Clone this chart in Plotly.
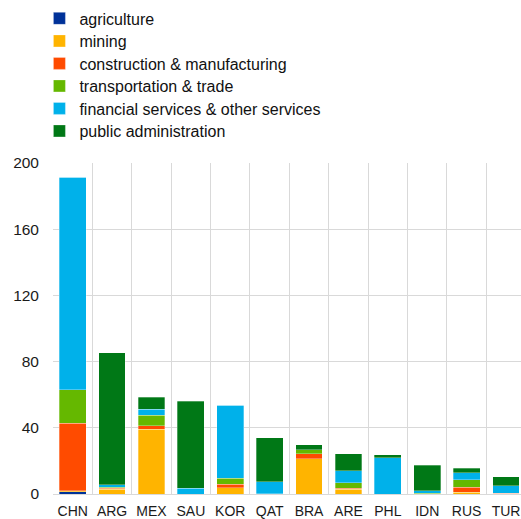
import plotly.graph_objects as go

countries = ["CHN", "ARG", "MEX", "SAU", "KOR", "QAT", "BRA", "ARE", "PHL", "IDN", "RUS", "TUR"]
agriculture = [1.5, 0.0, 0.0, 0.0, 0.0, 0.0, 0.0, 0.0, 0.0, 0.0, 0.0, 0.0]
mining = [0.5, 3.0, 39.2, 0.0, 3.8, 0.0, 21.4, 3.0, 0.0, 0.0, 1.2, 0.0]
construction = [40.8, 0.5, 2.0, 0.0, 2.2, 0.0, 3.0, 0.5, 0.0, 0.0, 2.8, 0.5]
transportation = [20.2, 0.5, 6.4, 0.0, 3.5, 0.3, 2.4, 3.2, 0.0, 0.5, 4.6, 0.0]
financial = [128.5, 1.5, 3.5, 3.6, 44.0, 7.0, 0.0, 7.4, 22.0, 1.5, 4.1, 4.5]
public_admin = [0.0, 80.0, 7.4, 52.3, 0.0, 26.6, 3.1, 10.3, 1.8, 15.3, 3.0, 5.5]
y_ticks = [0, 40, 80, 120, 160, 200]

series = [
    ("agriculture", agriculture, "#003299"),
    ("mining", mining, "#FFB400"),
    ("construction & manufacturing", construction, "#FF4B00"),
    ("transportation & trade", transportation, "#65B800"),
    ("financial services & other services", financial, "#00B1EA"),
    ("public administration", public_admin, "#007816"),
]

fig = go.Figure()
legend_layout = {}
for i, (name, vals, col) in enumerate(series):
    key = f"legend{i + 2}"
    fig.add_trace(go.Bar(
        x=countries, y=vals, name=name, legend=key,
        marker=dict(color=col, line=dict(color="rgba(255,255,255,0.5)", width=0.6)),
    ))
    legend_layout[key] = dict(
        x=-0.029, xanchor="left", y=1.488 - i * 0.068, yanchor="top",
        font=dict(size=16, color="#111111"), bgcolor="rgba(0,0,0,0)",
    )

fig.update_layout(
    width=521, height=519,
    barmode="stack", bargap=0.32,
    paper_bgcolor="white", plot_bgcolor="white",
    margin=dict(l=53, r=0, t=163, b=25, autoexpand=False),
    font=dict(family="Liberation Sans, Arial, sans-serif", size=15, color="#1a1a1a"),
    xaxis=dict(
        type="category", range=[-0.5, 11.38], tickson="boundaries",
        showgrid=True, gridcolor="#d9d9d9", gridwidth=1,
        ticks="", showline=False, zeroline=False, automargin=False,
        tickangle=0, tickfont=dict(size=14), ticklabelstandoff=7,
    ),
    yaxis=dict(
        range=[0, 200], tickvals=y_ticks, showgrid=True, gridcolor="#d9d9d9",
        gridwidth=1, zeroline=True, zerolinecolor="#d9d9d9", zerolinewidth=1,
        showline=False, ticks="", ticklabelstandoff=13, automargin=False,
        tickfont=dict(size=15.5),
    ),
    **legend_layout,
)

fig.write_html(
    "out.html",
    config={"displayModeBar": False},
    post_script="document.body.style.margin='0';document.body.style.overflow='hidden';",
)
